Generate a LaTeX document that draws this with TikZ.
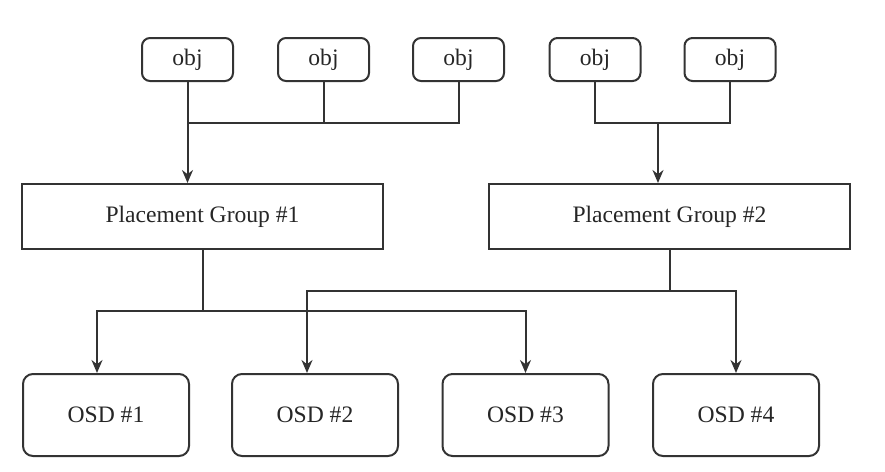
\documentclass[tikz,border=0pt]{standalone}
\usepackage{fontspec}
\setmainfont{Liberation Serif}
\usetikzlibrary{arrows.meta,calc}
\begin{document}
\begin{tikzpicture}[x=0.5pt, y=-0.5pt, line width=1pt, draw=black!80, >={Stealth[length=6.5pt,width=5.5pt]},
obj node/.style={rectangle,rounded corners=4pt,draw=black!80,minimum width=45.5pt,minimum height=21.5pt,inner sep=0pt},
group node/.style={rectangle,draw=black!80,minimum width=180.5pt,minimum height=32.5pt,inner sep=0pt},
osd node/.style={rectangle,rounded corners=5pt,draw=black!80,minimum width=83pt,minimum height=41pt,inner sep=0pt}]
\useasboundingbox (0,0) rectangle (885,472);
\begin{scope}[every node/.style={font=\fontsize{11.8}{14}\selectfont,text=black!85}]
\node[obj node] (o1) at (187.5,59.5) {obj};
\node[obj node] (o2) at (323.5,59.5) {obj};
\node[obj node] (o3) at (458.5,59.5) {obj};
\node[obj node] (o4) at (595,59.5) {obj};
\node[obj node] (o5) at (730,59.5) {obj};
\node[group node] (pg1) at (202.5,216.5) {Placement Group \#1};
\node[group node] (pg2) at (669.5,216.5) {Placement Group \#2};
\node[osd node] (osd1) at (106,415) {OSD \#1};
\node[osd node] (osd2) at (315,415) {OSD \#2};
\node[osd node] (osd3) at (525.5,415) {OSD \#3};
\node[osd node] (osd4) at (736,415) {OSD \#4};
\end{scope}
\coordinate (j1) at (187.5,123);
\coordinate (j2) at (658,123);
\coordinate (j3) at (202.5,311);
\coordinate (j4) at (669.5,291);
\begin{scope}[draw=black!80]
%objects into the groups
\draw (o2.south) |- (j1);
\draw (o3.south) |- (j1);
\draw[->] (o1.south) -- (o1.south |- pg1.north);
\draw (o4.south) |- (j2);
\draw (o5.south) |- (j2);
\draw[->] (j2) -- (j2 |- pg2.north);
%groups onto the osds
\draw (pg1.south) -- (j3);
\draw[->] (j3) -| ($(osd1.north)+(-9,0)$);
\draw[->] (j3) -| (osd3.north);
\draw (pg2.south) -- (j4);
\draw[->] (j4) -| ($(osd2.north)+(-8,0)$);
\draw[->] (j4) -| (osd4.north);
\end{scope}
\end{tikzpicture}
\end{document}
